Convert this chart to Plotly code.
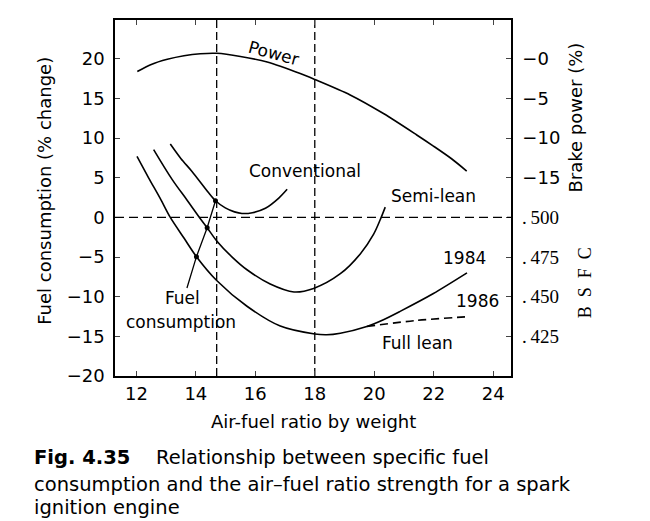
import plotly.graph_objects as go

# ---- data ----
power_x = [12.03, 12.5, 13.04, 13.6, 14.15, 14.71, 15.5, 16.4, 17.51, 18.0, 19.19, 20.31, 21.43, 21.99, 22.6, 23.11]
power_y = [18.4, 19.3, 19.95, 20.4, 20.65, 20.7, 20.3, 19.6, 18.15, 17.4, 15.45, 13.1, 10.4, 9.0, 7.4, 5.85]

conv_x = [13.14, 13.5, 13.87, 14.43, 14.66, 14.99, 15.3, 15.55, 15.9, 16.34, 16.78, 17.07]
conv_y = [9.25, 7.4, 5.8, 3.1, 2.1, 1.2, 0.7, 0.5, 0.6, 1.15, 2.4, 3.55]

semi_x = [12.58, 13.2, 13.7, 14.12, 14.38, 14.71, 15.22, 15.72, 16.5, 17.3, 17.96, 18.86, 19.53, 19.98, 20.2, 20.37]
semi_y = [8.55, 4.8, 2.2, 0.0, -1.3, -3.0, -5.0, -6.6, -8.4, -9.4, -8.95, -7.1, -4.6, -2.1, -0.3, 1.3]

# full-lean curve up to where the 1984 and 1986 branches split
lean_x = [12.02, 12.41, 12.8, 13.14, 13.6, 14.02, 14.7, 15.72, 16.84, 18.0, 18.4, 18.86, 19.75]
lean_y = [7.7, 5.0, 2.4, 0.0, -2.6, -4.95, -7.95, -11.2, -13.7, -14.7, -14.8, -14.6, -13.75]

y1984_x = [19.75, 20.31, 20.87, 21.99, 23.12]
y1984_y = [-13.75, -12.9, -11.85, -9.6, -7.0]

y1986_x = [19.75, 21.4, 23.23]
y1986_y = [-13.75, -13.0, -12.5]

fuel_x = [13.7, 14.02, 14.38, 14.66]
fuel_y = [-8.9, -4.95, -1.3, 2.1]
dot_x = [14.02, 14.38, 14.66]
dot_y = [-4.95, -1.3, 2.1]

ref_afr = [14.7, 18.0]

x_ticks = [12, 14, 16, 18, 20, 22, 24]
y_ticks = [-20, -15, -10, -5, 0, 5, 10, 15, 20]
bp_vals = [20, 15, 10, 5]
bp_text = ["\u22120", "\u22125", "\u221210", "\u221215"]
bsfc_vals = [0, -5, -10, -15]
bsfc_text = [".\u2009500", ".\u2009475", ".\u2009450", ".\u2009425"]

X_RANGE = [11.28, 24.6]
Y_RANGE = [-20, 24.9]

SANS = "DejaVu Sans, Verdana, sans-serif"
SERIF = "Liberation Serif, Times New Roman, serif"
LW = 1.6

fig = go.Figure()

def curve(x, y, dash="solid", smoothing=0.8):
    fig.add_trace(go.Scatter(x=x, y=y, mode="lines",
                             line=dict(color="black", width=LW, dash=dash, shape="spline", smoothing=smoothing),
                             showlegend=False, hoverinfo="skip"))

for v in ref_afr:
    fig.add_trace(go.Scatter(x=[v, v], y=Y_RANGE, mode="lines",
                             line=dict(color="black", width=1.3, dash="8px,4px"),
                             showlegend=False, hoverinfo="skip"))

curve(power_x, power_y)
curve(conv_x, conv_y)
curve(semi_x, semi_y, smoothing=1.0)
curve(lean_x + y1984_x[1:], lean_y + y1984_y[1:])   # full lean continuing as 1984
curve(y1986_x, y1986_y, dash="8px,5px")
fig.add_trace(go.Scatter(x=fuel_x, y=fuel_y, mode="lines",
                         line=dict(color="black", width=1.3),
                         showlegend=False, hoverinfo="skip"))
fig.add_trace(go.Scatter(x=dot_x, y=dot_y, mode="markers",
                         marker=dict(color="black", size=5),
                         showlegend=False, hoverinfo="skip"))
# invisible traces to activate right axes
fig.add_trace(go.Scatter(x=[None], y=[None], yaxis="y2", showlegend=False))
fig.add_trace(go.Scatter(x=[None], y=[None], yaxis="y3", showlegend=False))

fig.add_shape(type="line", xref="paper", x0=0, x1=1, yref="y", y0=0, y1=0,
              line=dict(color="black", width=1.3, dash="9px,5px"))

tickfont = dict(family=SANS, size=18, color="black")
fig.update_layout(
    width=642, height=513,
    margin=dict(l=107, r=139, t=10, b=145),
    paper_bgcolor="white", plot_bgcolor="white",
    xaxis=dict(range=X_RANGE, tickvals=x_ticks, ticks="inside", ticklen=5, tickwidth=1.2,
               showline=True, linecolor="black", linewidth=1.5, mirror="ticks",
               showgrid=False, zeroline=False, tickfont=tickfont, ticklabelstandoff=1),
    yaxis=dict(range=Y_RANGE, tickvals=y_ticks, ticks="inside", ticklen=5, tickwidth=1.2,
               showline=True, linecolor="black", linewidth=1.5, mirror=False,
               showgrid=False, zeroline=False, tickfont=tickfont, ticklabelstandoff=5),
    yaxis2=dict(range=Y_RANGE, overlaying="y", side="right", anchor="x",
                tickvals=bp_vals, ticktext=bp_text, ticks="inside", ticklen=5, tickwidth=1.2,
                showline=True, linecolor="black", linewidth=1.5,
                showgrid=False, zeroline=False, tickfont=tickfont, ticklabelstandoff=6),
    yaxis3=dict(range=Y_RANGE, overlaying="y", side="right", anchor="x",
                tickvals=bsfc_vals, ticktext=bsfc_text, ticks="inside", ticklen=5, tickwidth=1.2,
                showline=False, showgrid=False, zeroline=False,
                tickfont=dict(family=SERIF, size=19, color="black"), ticklabelstandoff=10),
)

def lab(text, x, y, size=17, angle=0, family=SANS, xref="x", yref="y", xanchor="center", yanchor="middle"):
    fig.add_annotation(text=text, x=x, y=y, xref=xref, yref=yref, showarrow=False,
                       textangle=angle, xanchor=xanchor, yanchor=yanchor,
                       font=dict(family=family, size=size, color="black"))

lab("Power", 16.6, 20.75, angle=15)
lab("Conventional", 17.68, 5.83)
lab("Semi-lean", 21.98, 2.7)
lab("1984", 23.03, -5.08)
lab("1986", 23.46, -10.5)
lab("Full lean", 21.45, -15.9)
lab("Fuel", 13.55, -10.1)
lab("consumption", 13.51, -13.2)

# axis titles
lab("Fuel consumption (% change)", -0.177, 0.52, size=18, angle=-90, xref="paper", yref="paper")
lab("Air-fuel ratio by weight", 0.5, -0.127, size=18, xref="paper", yref="paper")
lab("Brake power (%)", 1.164, 0.726, size=18, angle=-90, xref="paper", yref="paper")
lab("B\u2002S\u2002F\u2002C", 1.189, 0.263, size=18, angle=-90, family=SERIF, xref="paper", yref="paper")

# caption
lab("<b>Fig. 4.35</b>\u2003 Relationship between specific fuel", -0.2096, -0.229, size=19.5,
    xref="paper", yref="paper", xanchor="left")
lab("consumption and the air\u2013fuel ratio strength for a spark", -0.2096, -0.3045, size=19.5,
    xref="paper", yref="paper", xanchor="left")
lab("ignition engine", -0.2096, -0.3687, size=19.5, xref="paper", yref="paper", xanchor="left")

fig.write_html("out.html")
